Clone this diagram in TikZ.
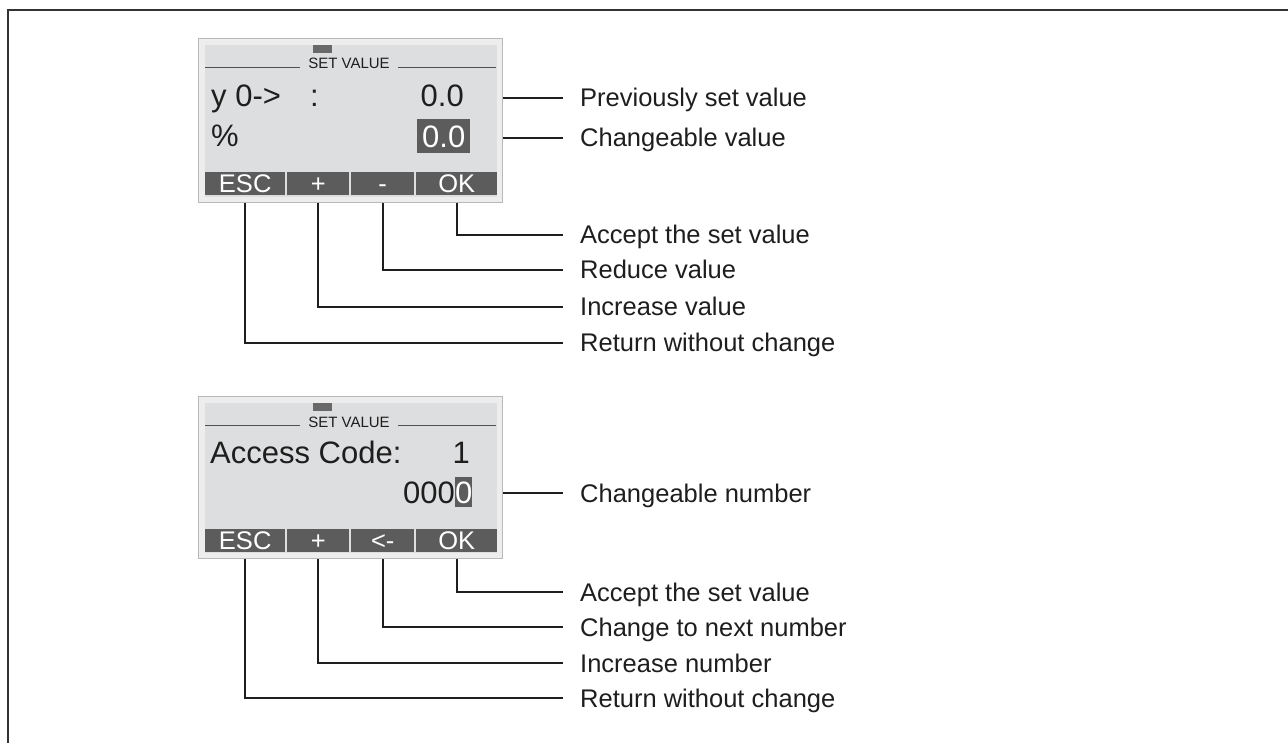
\documentclass[tikz,border=0pt]{standalone}
\usepackage{fontspec}
\setmainfont{Liberation Sans}
\definecolor{outergray}{RGB}{237,237,237}
\definecolor{bordergray}{RGB}{185,185,185}
\definecolor{innergray}{RGB}{221,222,223}
\definecolor{btngray}{RGB}{92,92,92}
\definecolor{tabgray}{RGB}{105,105,105}
\definecolor{titleline}{RGB}{80,80,80}
\definecolor{ink}{RGB}{30,30,30}
\begin{document}
\begin{tikzpicture}[x=1pt,y=-1pt,
  lab/.style={anchor=west, inner xsep=17pt, inner ysep=0pt, text height=18pt, text depth=0pt,
    font=\fontsize{25.5}{28}\selectfont, text=ink},
  conn/.style={line width=1.9pt, draw=ink},
  box/.style={inner sep=0pt, anchor=north west},
  btn/.style={box, fill=btngray, text=white, minimum height=23pt,
    font=\fontsize{25.5}{25}\selectfont, text height=18pt, text depth=0pt},
  disp/.style={inner sep=0pt, font=\fontsize{31}{32}\selectfont, text=ink},
  hl/.style={box, fill=btngray, text=white, inner sep=0pt, font=\fontsize{31}{32}\selectfont,
    text height=22pt, text depth=0pt},
  ttl/.style={inner sep=0pt, anchor=base, font=\fontsize{15}{15}\selectfont, text=ink},
  tline/.style={line width=1pt, draw=titleline}
]
\useasboundingbox (0,0) rectangle (1288,743);
\draw[line width=2pt, black!80] (8,743) -- (8,10) -- (1288,10);

% ---------------- Panel 1 ----------------
\node[box, draw=bordergray, fill=outergray, line width=1pt, minimum width=304pt, minimum height=164pt] (p1) at (198,38) {};
\node[box, fill=innergray, minimum width=292pt, minimum height=152pt] (s1) at (205,45) {};
\node[box, fill=tabgray, minimum width=19pt, minimum height=8pt] (tab1) at (313,45) {};
\node[ttl] (t1) at (349,69) {SET VALUE};
\draw[tline] (205,68) -- (300,68);
\draw[tline] (398,68) -- (496,68);
\node[disp, anchor=base west] (y1) at (211,107) {y 0->};
\node[disp, anchor=base west] (c1) at (310,107) {:};
\node[disp, anchor=base east] (pv1) at (464,107) {0.0};
\node[disp, anchor=base west] (pc1) at (211,147) {\%};
\node[hl, minimum width=53pt, minimum height=34pt] (cv1) at (417,119) {0.0};
\node[btn, minimum width=80pt] (b1esc) at (205,172) {ESC};
\node[btn, minimum width=62pt] (b1plus) at (287,172) {+};
\node[btn, minimum width=63pt] (b1minus) at (351,172) {-};
\node[btn, minimum width=81pt] (b1ok) at (416,172) {OK};

\node[lab] (l1prev) at (563,98) {Previously set value};
\node[lab] (l1chg) at (563,138) {Changeable value};
\node[lab] (l1acc) at (563,235) {Accept the set value};
\node[lab] (l1red) at (563,270) {Reduce value};
\node[lab] (l1inc) at (563,307) {Increase value};
\node[lab] (l1ret) at (563,343) {Return without change};

\draw[conn] (p1.east |- l1prev.west) -- (l1prev.west);
\draw[conn] (p1.east |- l1chg.west) -- (l1chg.west);
\draw[conn] (b1ok.center |- p1.south) |- (l1acc.west);
\draw[conn] (b1minus.center |- p1.south) |- (l1red.west);
\draw[conn] (b1plus.center |- p1.south) |- (l1inc.west);
\draw[conn] (b1esc.center |- p1.south) |- (l1ret.west);

% ---------------- Panel 2 ----------------
\begin{scope}[yshift=-358pt]
\node[box, draw=bordergray, fill=outergray, line width=1pt, minimum width=304pt, minimum height=162pt] (p2) at (198,38) {};
\node[box, fill=innergray, minimum width=292pt, minimum height=150pt] (s2) at (205,45) {};
\node[box, fill=tabgray, minimum width=19pt, minimum height=8pt] (tab2) at (313,45) {};
\node[ttl] (t2) at (349,69) {SET VALUE};
\draw[tline] (205,67) -- (300,67);
\draw[tline] (398,67) -- (496,67);
\node[disp, anchor=base west] (ac2) at (210,105) {Access Code:};
\node[disp, anchor=base east] (one2) at (470,105) {1};
\node[hl, minimum width=17pt, minimum height=30pt] (cn2) at (455,119) {0};
\node[disp, anchor=base east] (zz2) at (cn2.base west) {000};
\node[btn, minimum width=80pt] (b2esc) at (205,171) {ESC};
\node[btn, minimum width=62pt] (b2plus) at (287,171) {+};
\node[btn, minimum width=63pt] (b2next) at (351,171) {<-};
\node[btn, minimum width=81pt] (b2ok) at (416,171) {OK};

\node[lab] (l2chg) at (563,135) {Changeable number};
\node[lab] (l2acc) at (563,234) {Accept the set value};
\node[lab] (l2nxt) at (563,269) {Change to next number};
\node[lab] (l2inc) at (563,305) {Increase number};
\node[lab] (l2ret) at (563,340) {Return without change};

\draw[conn] (p2.east |- l2chg.west) -- (l2chg.west);
\draw[conn] (b2ok.center |- p2.south) |- (l2acc.west);
\draw[conn] (b2next.center |- p2.south) |- (l2nxt.west);
\draw[conn] (b2plus.center |- p2.south) |- (l2inc.west);
\draw[conn] (b2esc.center |- p2.south) |- (l2ret.west);
\end{scope}
\end{tikzpicture}
\end{document}
